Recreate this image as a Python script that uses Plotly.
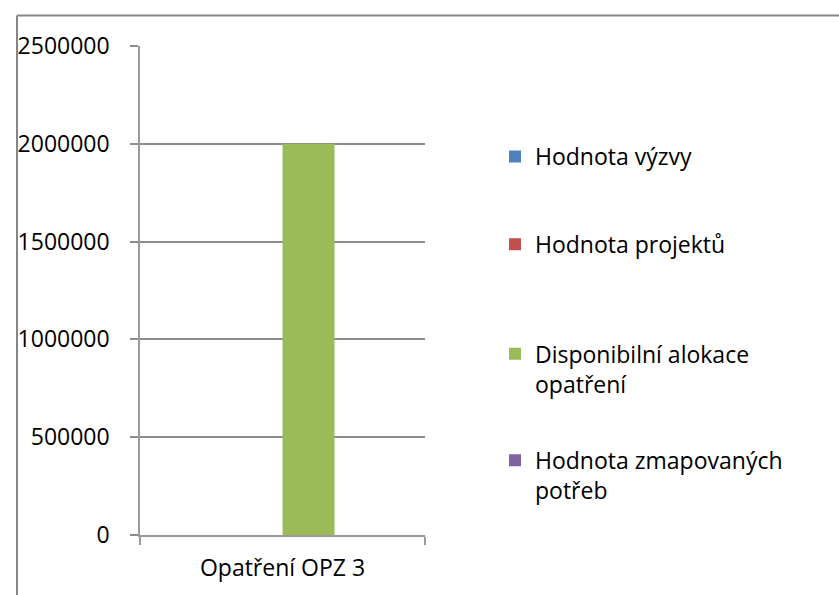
import plotly.graph_objects as go

categories = ["Opatření OPZ 3"]
series_names = [
    "Hodnota výzvy",
    "Hodnota projektů",
    "Disponibilní alokace<br>opatření",
    "Hodnota zmapovaných<br>potřeb",
]
series_values = [
    [0],
    [0],
    [2000000],
    [0],
]
series_colors = ["#4F81BD", "#C0504D", "#9BBB59", "#8064A2"]
y_ticks = [0, 500000, 1000000, 1500000, 2000000, 2500000]

W, H = 839, 595
L, R, T, B = 140, 425, 46, 537  # plot area in px


def px_x(px):
    return (px - L) / (R - L)


def px_y(py):
    return (B - py) / (B - T)


FONT = dict(family="Open Sans", size=23, color="#000000")

fig = go.Figure()
legend_names = ["legend", "legend2", "legend3", "legend4"]
legend_centers = [157, 245, 370, 477]
for name, vals, color, lg in zip(series_names, series_values, series_colors, legend_names):
    fig.add_trace(go.Bar(x=categories, y=vals, name=name, marker_color=color,
                         marker_line_width=0, legend=lg, showlegend=True))

layout_legends = {}
for lg, cy in zip(legend_names, legend_centers):
    layout_legends[lg] = dict(
        x=px_x(495), xanchor="left", y=px_y(cy), yanchor="middle",
        font=FONT, bgcolor="rgba(0,0,0,0)", valign="top",
    )

fig.update_layout(
    width=W, height=H,
    margin=dict(l=L, r=W - R, t=T, b=H - B),
    paper_bgcolor="white", plot_bgcolor="white",
    barmode="group", bargap=0.27, bargroupgap=0,
    font=FONT, showlegend=True,
    **layout_legends,
)
fig.update_xaxes(
    showline=True, linecolor="#9a9a9a", linewidth=1.5,
    ticks="outside", tickson="boundaries", ticklen=8, tickcolor="#9a9a9a", tickwidth=1.5,
    showgrid=False, ticklabelstandoff=12, tickfont=FONT,
)
fig.update_yaxes(
    range=[0, 2500000], tickvals=y_ticks, tickformat="d",
    showline=True, linecolor="#9a9a9a", linewidth=1.5,
    ticks="outside", ticklen=8, tickcolor="#8c8c8c", tickwidth=1.5,
    showgrid=True, gridcolor="#8c8c8c", gridwidth=1.5,
    zeroline=False, ticklabelstandoff=16, tickfont=FONT,
)

# chart area border (top and left edges visible in the reference)
fig.add_shape(type="line", xref="paper", yref="paper",
              x0=px_x(17), x1=px_x(860), y0=px_y(15.5), y1=px_y(15.5),
              line=dict(color="#868686", width=2))
fig.add_shape(type="line", xref="paper", yref="paper",
              x0=px_x(17), x1=px_x(17), y0=px_y(15.5), y1=px_y(620),
              line=dict(color="#868686", width=2))

fig.write_html("out.html", config={"displayModeBar": False},
               post_script="document.body.style.margin='0';")
